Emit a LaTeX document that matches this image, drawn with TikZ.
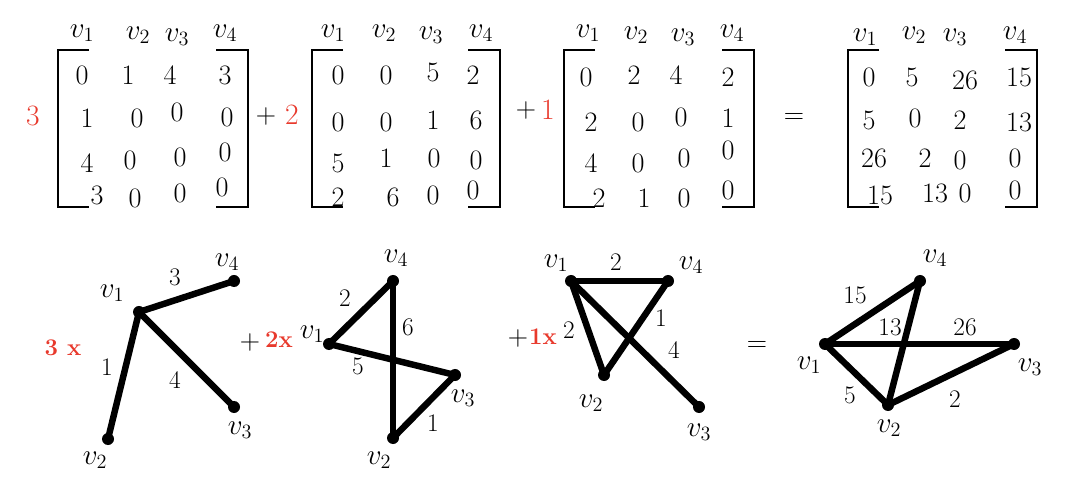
\documentclass[tikz,border=0pt]{standalone}
\definecolor{hred}{HTML}{E8392C}
\tikzset{
  ent/.style={font=\fontsize{20}{20}\selectfont, inner sep=0pt},
  lab/.style={font=\fontsize{20}{20}\selectfont, inner sep=0pt},
  wt/.style={font=\fontsize{18}{18}\selectfont, inner sep=0pt},
  coef/.style={font=\fontsize{21}{21}\selectfont, text=hred, inner sep=0pt},
  gcoef/.style={font=\fontsize{17}{17}\selectfont\bfseries, text=hred, inner sep=0pt},
  op/.style={font=\fontsize{20}{20}\selectfont, inner sep=0pt},
  vtx/.style={circle, fill=black, minimum size=0.3cm, inner sep=0pt},
  edge/.style={line width=4.6pt, line cap=round},
  brk/.style={line width=1.3pt}
}
\begin{document}
\begin{tikzpicture}[x=0.025cm, y=-0.025cm]
\useasboundingbox (0,0) rectangle (1084,484);

% ---------- brackets ----------
\foreach \l/\r in {58/248, 312/500, 564/754, 848/1037}{
  \draw[brk] ({\l+31},50) -- (\l,50) -- (\l,207) -- ({\l+31},207);
  \draw[brk] ({\r-32},50) -- (\r,50) -- (\r,207) -- ({\r-32},207);
}

% ---------- column labels ----------
\foreach \x/\y/\t [count=\i] in {82/33/1, 138/35/2, 177/37/3, 225/33/4,
  333/33/1, 384/33/2, 431/35/3, 481/33/4,
  588/33/1, 636/35/2, 683/37/3, 732/33/4,
  865/37/1, 914/35/2, 955/37/3, 1015/35/4}
  \node[lab] (cl\i) at (\x,\y) {$v_{\t}$};

% ---------- matrix 1 ----------
\foreach \x/\y/\t [count=\i] in {82/75/0, 128/75/1, 170/75/4, 225/75/3,
  87/118/1, 137/118/0, 177/112/0, 227/117/0,
  87/163/4, 130/160/0, 180/157/0, 225/152/0,
  97/195/3, 135/198/0, 180/193/0, 222/187/0}
  \node[ent] (ma\i) at (\x,\y) {\t};

% ---------- matrix 2 ----------
\foreach \x/\y/\t [count=\i] in {338/75/0, 386/75/0, 433/72/5, 473/75/2,
  338/122/0, 386/122/0, 433/120/1, 476/120/6,
  338/163/5, 386/158/1, 434/158/0, 476/160/0,
  338/197/2, 393/197/6, 433/195/0, 473/190/0}
  \node[ent] (mb\i) at (\x,\y) {\t};

% ---------- matrix 3 ----------
\foreach \x/\y/\t [count=\i] in {586/77/0, 634/75/2, 676/75/4, 728/77/2,
  591/122/2, 638/122/0, 681/117/0, 728/118/1,
  591/163/4, 638/163/0, 684/158/0, 728/150/0,
  599/198/2, 644/198/1, 684/198/0, 728/190/0}
  \node[ent] (mc\i) at (\x,\y) {\t};

% ---------- matrix 4 ----------
\foreach \x/\y/\t [count=\i] in {869/77/0, 912/77/5, 965/80/26, 1019/77/15,
  869/120/5, 915/118/0, 960/120/2, 1019/122/13,
  874/158/26, 925/158/2, 960/160/0, 1015/158/0,
  880/195/15, 935/193/13, 965/193/0, 1015/190/0}
  \node[ent] (md\i) at (\x,\y) {\t};

% ---------- operators top ----------
\node[coef] (k1) at (33,116) {3};
\node[op] (p1) at (266,116) {+};
\node[coef] (k2) at (292,115) {2};
\node[op] (p2) at (526,110) {+};
\node[coef] (k3) at (548,110) {1};
\node[op] (eq1) at (794,118) {=};

% ---------- graph 1 ----------
\node[vtx] (a1) at (139,312) {};
\node[vtx] (a2) at (108,439) {};
\node[vtx] (a3) at (234,407) {};
\node[vtx] (a4) at (234,281) {};
\draw[edge] (a1.center) -- (a4.center);
\draw[edge] (a1.center) -- (a2.center);
\draw[edge] (a1.center) -- (a3.center);
\node[lab] (la1) at (112,293) {$v_1$};
\node[lab] (la4) at (227,262) {$v_4$};
\node[lab] (la3) at (240,430) {$v_3$};
\node[lab] (la2) at (95,460) {$v_2$};
\node[wt] (wa14) at (175,277) {3};
\node[wt] (wa12) at (107,367) {1};
\node[wt] (wa13) at (175,380) {4};
\node[gcoef] (ga) at (63,348) {3 x};

% ---------- graph 2 ----------
\node[op] (p3) at (250,342) {+};
\node[gcoef] (gb) at (279,340) {2x};
\node[vtx] (b1) at (329,344) {};
\node[vtx] (b2) at (393,438) {};
\node[vtx] (b3) at (455,375) {};
\node[vtx] (b4) at (393,281) {};
\draw[edge] (b1.center) -- (b4.center);
\draw[edge] (b4.center) -- (b2.center);
\draw[edge] (b1.center) -- (b3.center);
\draw[edge] (b3.center) -- (b2.center);
\node[lab] (lb1) at (312,334) {$v_1$};
\node[lab] (lb4) at (396,258) {$v_4$};
\node[lab] (lb3) at (463,398) {$v_3$};
\node[lab] (lb2) at (379,460) {$v_2$};
\node[wt] (wb14) at (345,298) {2};
\node[wt] (wb42) at (408,327) {6};
\node[wt] (wb13) at (358,366) {5};
\node[wt] (wb32) at (433,423) {1};

% ---------- graph 3 ----------
\node[op] (p4) at (518,338) {+};
\node[gcoef] (gc) at (543,337) {1x};
\node[vtx] (c1) at (571,281) {};
\node[vtx] (c2) at (604,375) {};
\node[vtx] (c3) at (699,407) {};
\node[vtx] (c4) at (668,281) {};
\draw[edge] (c1.center) -- (c4.center);
\draw[edge] (c1.center) -- (c2.center);
\draw[edge] (c4.center) -- (c2.center);
\draw[edge] (c1.center) -- (c3.center);
\node[lab] (lc1) at (556,263) {$v_1$};
\node[lab] (lc4) at (691,265) {$v_4$};
\node[lab] (lc2) at (591,403) {$v_2$};
\node[lab] (lc3) at (699,432) {$v_3$};
\node[wt] (wc14) at (616,262) {2};
\node[wt] (wc12) at (569,330) {2};
\node[wt] (wc42) at (661,318) {1};
\node[wt] (wc13) at (674,350) {4};

% ---------- graph 4 ----------
\node[op] (eq2) at (757,346) {=};
\node[vtx] (d1) at (825,344) {};
\node[vtx] (d2) at (888,405) {};
\node[vtx] (d3) at (1014,344) {};
\node[vtx] (d4) at (920,281) {};
\draw[edge] (d1.center) -- (d4.center);
\draw[edge] (d1.center) -- (d3.center);
\draw[edge] (d4.center) -- (d2.center);
\draw[edge] (d1.center) -- (d2.center);
\draw[edge] (d2.center) -- (d3.center);
\node[lab] (ld1) at (809,365) {$v_1$};
\node[lab] (ld4) at (935,258) {$v_4$};
\node[lab] (ld3) at (1030,367) {$v_3$};
\node[lab] (ld2) at (889,428) {$v_2$};
\node[wt] (wd14) at (855,295) {15};
\node[wt] (wd42) at (890,327) {13};
\node[wt] (wd13) at (965,327) {26};
\node[wt] (wd12) at (850,395) {5};
\node[wt] (wd23) at (955,399) {2};
\end{tikzpicture}
\end{document}
